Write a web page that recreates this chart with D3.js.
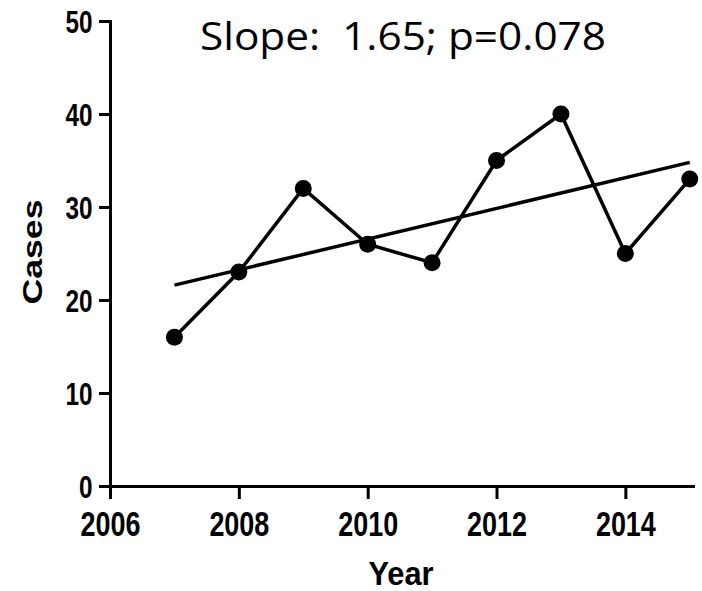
<!DOCTYPE html>
<html>
<head>
<meta charset="utf-8">
<script src="https://cdn.jsdelivr.net/npm/d3@7"></script>
<style>
  body { margin: 0; background: #fff; }
  .axis path, .axis line { stroke: #000; stroke-width: 3px; }
  .axis text { font-family: "Liberation Sans", Arial, sans-serif; font-weight: bold; fill: #000; }
</style>
</head>
<body>
<div id="chart"></div>
<script>
// data
var years = [2007, 2008, 2009, 2010, 2011, 2012, 2013, 2014, 2015];
var cases = [16, 23, 32, 26, 24, 35, 40, 25, 33];
// fitted line end points (as drawn)
var fitYears = [2007, 2015];
var fitCases = [21.6, 34.8];
var xTicks = [2006, 2008, 2010, 2012, 2014];
var yTicks = [0, 10, 20, 30, 40, 50];
var title = "Slope:  1.65; p=0.078";

var W = 702, H = 591;
var margin = {top: 21, right: 9, bottom: 105, left: 110};

var xScale = d3.scaleLinear()
  .domain([2006, 2015.05])
  .range([margin.left, W - margin.right]);

var yScale = d3.scaleLinear()
  .domain([0, 50])
  .range([H - margin.bottom, margin.top]);

var svg = d3.select("#chart").append("svg")
  .attr("width", W)
  .attr("height", H);

// x axis
var xAxis = svg.append("g")
  .attr("class", "axis x--axis")
  .attr("transform", "translate(0," + yScale(0) + ")")
  .call(d3.axisBottom(xScale)
    .tickValues(xTicks)
    .tickFormat(d3.format("d"))
    .tickSize(13)
    .tickSizeOuter(0));
xAxis.selectAll("text")
  .attr("y", 25)
  .attr("dy", "0.71em")
  .style("font-size", "35px")
  .attr("transform", "scale(0.77,1)");

// y axis
var yAxis = svg.append("g")
  .attr("class", "axis y--axis")
  .attr("transform", "translate(" + xScale(2006) + ",0)")
  .call(d3.axisLeft(yScale)
    .tickValues(yTicks)
    .tickSize(11)
    .tickSizeOuter(0));
yAxis.selectAll("text")
  .attr("x", -23)
  .attr("dy", "0.36em")
  .style("font-size", "32px")
  .attr("transform", "scale(0.76,1)");

svg.selectAll(".domain").attr("stroke-linecap", "square");

// regression line
var fitData = fitYears.map(function(d, i) { return {x: d, y: fitCases[i]}; });
svg.append("path")
  .datum(fitData)
  .attr("fill", "none")
  .attr("stroke", "#000")
  .attr("stroke-width", 3.5)
  .attr("d", d3.line()
    .x(function(d) { return xScale(d.x); })
    .y(function(d) { return yScale(d.y); }));

// data series
var points = years.map(function(d, i) { return {x: d, y: cases[i]}; });
svg.append("path")
  .datum(points)
  .attr("fill", "none")
  .attr("stroke", "#000")
  .attr("stroke-width", 3.5)
  .attr("d", d3.line()
    .x(function(d) { return xScale(d.x); })
    .y(function(d) { return yScale(d.y); }));

svg.selectAll(".dot")
  .data(points)
  .enter()
  .append("circle")
  .attr("class", "dot")
  .attr("cx", function(d) { return xScale(d.x); })
  .attr("cy", function(d) { return yScale(d.y); })
  .attr("r", 8.5)
  .attr("fill", "#000");

// labels
svg.append("text")
  .attr("x", 403)
  .attr("y", 50)
  .attr("text-anchor", "middle")
  .attr("textLength", 406)
  .attr("lengthAdjust", "spacingAndGlyphs")
  .style("white-space", "pre")
  .style("font-family", "'Open Sans', 'Noto Sans', sans-serif")
  .style("font-size", "38px")
  .style("fill", "#000")
  .text(title);

svg.append("text")
  .attr("transform", "translate(42,252) rotate(-90)")
  .attr("text-anchor", "middle")
  .attr("textLength", 105)
  .attr("lengthAdjust", "spacingAndGlyphs")
  .style("font-family", "'Liberation Sans', Arial, sans-serif")
  .style("font-weight", "bold")
  .style("font-size", "28px")
  .text("Cases");

svg.append("text")
  .attr("x", 401)
  .attr("y", 585)
  .attr("text-anchor", "middle")
  .attr("textLength", 65)
  .attr("lengthAdjust", "spacingAndGlyphs")
  .style("font-family", "'Liberation Sans', Arial, sans-serif")
  .style("font-weight", "bold")
  .style("font-size", "33px")
  .text("Year");
</script>
</body>
</html>
